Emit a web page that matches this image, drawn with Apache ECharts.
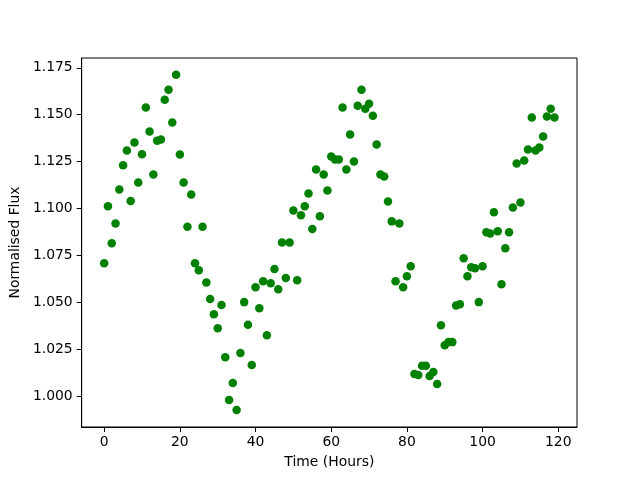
<!DOCTYPE html>
<html>
<head>
<meta charset="utf-8">
<script src="https://cdn.jsdelivr.net/npm/echarts@6/dist/echarts.min.js"></script>
<style>
  html, body { margin: 0; padding: 0; background: #fff; }
  #chart { width: 640px; height: 480px; }
</style>
</head>
<body>
<div id="chart"></div>
<script>
// time in hours, one reading per hour
const hours = [
  0, 1, 2, 3, 4, 5, 6, 7, 8, 9, 10, 11, 12, 13, 14, 15, 16, 17, 18, 19,
  20, 21, 22, 23, 24, 25, 26, 27, 28, 29, 30, 31, 32, 33, 34, 35, 36, 37, 38, 39,
  40, 41, 42, 43, 44, 45, 46, 47, 48, 49, 50, 51, 52, 53, 54, 55, 56, 57, 58, 59,
  60, 61, 62, 63, 64, 65, 66, 67, 68, 69, 70, 71, 72, 73, 74, 75, 76, 77, 78, 79,
  80, 81, 82, 83, 84, 85, 86, 87, 88, 89, 90, 91, 92, 93, 94, 95, 96, 97, 98, 99,
  100, 101, 102, 103, 104, 105, 106, 107, 108, 109, 110, 111, 112, 113, 114, 115, 116, 117, 118, 119
];
const flux = [
  1.0709, 1.1012, 1.0815, 1.0921, 1.1102, 1.1231, 1.1309, 1.1040, 1.1352, 1.1139,
  1.1290, 1.1538, 1.1410, 1.1182, 1.1362, 1.1368, 1.1580, 1.1633, 1.1458, 1.1713,
  1.1288, 1.1139, 1.0903, 1.1075, 1.0709, 1.0672, 1.0903, 1.0606, 1.0518, 1.0438,
  1.0363, 1.0487, 1.0209, 0.9981, 1.0071, 0.9928, 1.0231, 1.0502, 1.0381, 1.0167,
  1.0581, 1.0470, 1.0613, 1.0326, 1.0603, 1.0679, 1.0571, 1.0820, 1.0631, 1.0820,
  1.0990, 1.0618, 1.0964, 1.1012, 1.1081, 1.0891, 1.1208, 1.0959, 1.1182, 1.1097,
  1.1277, 1.1261, 1.1261, 1.1538, 1.1208, 1.1394, 1.1251, 1.1548, 1.1633, 1.1532,
  1.1559, 1.1495, 1.1341, 1.1182, 1.1171, 1.1038, 1.0932, 1.0613, 1.0921, 1.0581,
  1.0640, 1.0693, 1.0119, 1.0114, 1.0163, 1.0163, 1.0108, 1.0130, 1.0066, 1.0379,
  1.0273, 1.0289, 1.0289, 1.0484, 1.0491, 1.0735, 1.0640, 1.0688, 1.0682, 1.0502,
  1.0693, 1.0874, 1.0868, 1.0980, 1.0879, 1.0597, 1.0789, 1.0874, 1.1006, 1.1240,
  1.1033, 1.1256, 1.1315, 1.1485, 1.1309, 1.1325, 1.1384, 1.1490, 1.1532, 1.1485
];
const xTicks = [0, 20, 40, 60, 80, 100, 120];
const yTicks = [1.000, 1.025, 1.050, 1.075, 1.100, 1.125, 1.150, 1.175];

let points = hours.map((h, i) => [h, flux[i]]);
let font = 'DejaVu Sans';

let option = {
  animation: false,
  textStyle: { fontFamily: font },
  grid: {
    left: 80,
    right: 63,
    top: 58,
    bottom: 53,
    show: true,
    borderColor: '#000',
    borderWidth: 1,
    backgroundColor: 'transparent'
  },
  xAxis: {
    type: 'value',
    min: -5.95,
    max: 124.95,
    name: 'Time (Hours)',
    nameLocation: 'middle',
    nameGap: 28,
    nameTextStyle: { color: '#000', fontSize: 13.9, fontFamily: font },
    axisLine: { show: true, onZero: false, lineStyle: { color: '#000', width: 1 } },
    axisTick: { show: true, length: 5, customValues: xTicks, lineStyle: { color: '#000' } },
    axisLabel: { color: '#000', fontSize: 13.9, margin: 8, customValues: xTicks, fontFamily: font },
    splitLine: { show: false }
  },
  yAxis: {
    type: 'value',
    min: 0.9837,
    max: 1.1802,
    name: 'Normalised Flux',
    nameLocation: 'middle',
    nameGap: 53,
    nameTextStyle: { color: '#000', fontSize: 13.9, fontFamily: font },
    axisLine: { show: true, onZero: false, lineStyle: { color: '#000', width: 1 } },
    axisTick: { show: true, length: 5, customValues: yTicks, lineStyle: { color: '#000' } },
    axisLabel: {
      color: '#000', fontSize: 13.9, margin: 9, customValues: yTicks, fontFamily: font,
      formatter: v => v.toFixed(3)
    },
    splitLine: { show: false }
  },
  series: [
    {
      type: 'scatter',
      data: points,
      symbol: 'circle',
      symbolSize: 8.5,
      itemStyle: { color: '#008000', opacity: 1 }
    }
  ]
};

let chart = echarts.init(document.getElementById('chart'), null, { renderer: 'canvas' });
chart.setOption(option);
</script>
</body>
</html>
